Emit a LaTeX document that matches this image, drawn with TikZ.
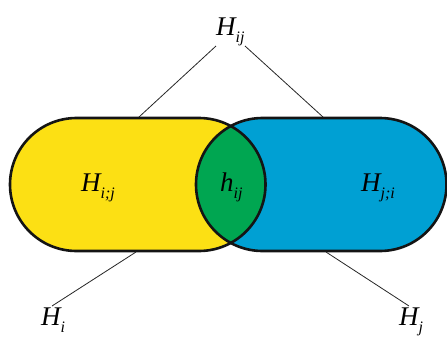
\documentclass[tikz,border=0pt]{standalone}
\usepackage{fontspec}
\setmainfont{Liberation Serif}
\definecolor{cyel}{HTML}{FCE014}
\definecolor{cblu}{HTML}{00A0D3}
\definecolor{cgrn}{HTML}{00A651}
\newcommand{\lab}[2]{{\fontsize{27}{28}\selectfont\itshape #1\raisebox{-0.26em}{\fontsize{16}{16}\selectfont #2}}}
\tikzset{
  outline/.style={draw=black!92,line width=2.6pt},
  lbl/.style={inner sep=0pt,anchor=base west},
  thin/.style={draw=black!85,line width=0.8pt}
}
\begin{document}
\begin{tikzpicture}[x=1pt,y=1pt]
\useasboundingbox (0,0) rectangle (447,-338);
\def\yel{(76.5,-118) -- (199,-118) arc[start angle=90,end angle=-90,radius=66.5] -- (76.5,-251) arc[start angle=270,end angle=90,radius=66.5] -- cycle}
\def\blu{(262.5,-118) -- (380,-118) arc[start angle=90,end angle=-90,radius=66.5] -- (262.5,-251) arc[start angle=270,end angle=90,radius=66.5] -- cycle}
\fill[cyel] \yel;
\fill[cblu] \blu;
\begin{scope}
\clip \yel;
\fill[cgrn] \blu;
\end{scope}
\path[outline] \yel;
\path[outline] \blu;
% labels
\node[lbl] (Hij) at (216,-35) {\lab{H}{ij}};
\node[lbl] (Hicj) at (81,-191) {\lab{H}{i;j}};
\node[lbl] (hij) at (220,-191) {\lab{h}{ij}};
\node[lbl] (Hjci) at (361,-191) {\lab{H}{j;i}};
\node[lbl] (Hi) at (41,-325) {\lab{H}{i}};
\node[lbl] (Hj) at (399,-325) {\lab{H}{j}};
% connector points
\coordinate (a1) at (216,-46);
\coordinate (a2) at (245,-46);
\coordinate (t1) at (139,-117);
\coordinate (t2) at (323,-117);
\coordinate (b1) at (136,-252);
\coordinate (b2) at (326,-252);
\coordinate (c1) at (52,-306);
\coordinate (c2) at (409,-306);
\draw[thin] (a1) -- (t1);
\draw[thin] (a2) -- (t2);
\draw[thin] (b1) -- (c1);
\draw[thin] (b2) -- (c2);
\end{tikzpicture}
\end{document}
